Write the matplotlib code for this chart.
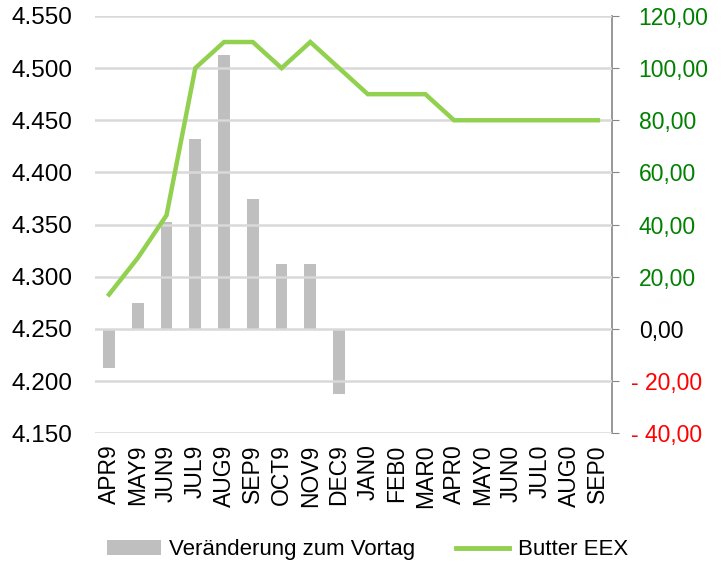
import matplotlib
matplotlib.use("Agg")
import matplotlib.pyplot as plt
from matplotlib.lines import Line2D
from matplotlib.patches import Patch
from matplotlib.ticker import FuncFormatter, FixedLocator
from matplotlib.transforms import ScaledTranslation

plt.rcParams["font.family"] = ["Liberation Sans", "DejaVu Sans"]

months = ["APR9", "MAY9", "JUN9", "JUL9", "AUG9", "SEP9", "OCT9", "NOV9", "DEC9",
          "JAN0", "FEB0", "MAR0", "APR0", "MAY0", "JUN0", "JUL0", "AUG0", "SEP0"]
change = [-15, 10, 41, 73, 105, 50, 25, 25, -25,
          0, 0, 0, 0, 0, 0, 0, 0, 0]
butter = [4283, 4318, 4359, 4500, 4525, 4525, 4500, 4525, 4500,
          4475, 4475, 4475, 4450, 4450, 4450, 4450, 4450, 4450]

left_ticks = [4150, 4200, 4250, 4300, 4350, 4400, 4450, 4500, 4550]
right_ticks = [-40, -20, 0, 20, 40, 60, 80, 100, 120]

GREEN_LINE = "#92D050"
BAR = "#BFBFBF"
GRID = "#D9D9D9"

fig = plt.figure(figsize=(7.28, 5.69), dpi=100)
ax = fig.add_axes([0.130, 0.2385, 0.711, 0.7335])
ax_r = ax.twinx()

x = list(range(len(months)))

# Balken (Veränderung) auf der rechten Achse, hinter der Linie
ax_r.bar(x, change, width=0.41, color=BAR, zorder=2)
ax_r.set_ylim(-40, 120)
ax_r.yaxis.set_major_locator(FixedLocator(right_ticks))


def fmt_right(v, pos):
    if v < 0:
        return f"- {abs(v):.2f}".replace(".", ",")
    return f"{v:.2f}".replace(".", ",")


ax_r.yaxis.set_major_formatter(FuncFormatter(fmt_right))
ax_r.tick_params(axis="y", labelsize=16.5, length=5, color="#868686", pad=14)
for tick, v in zip(ax_r.yaxis.get_major_ticks(), right_ticks):
    lbl = tick.label2
    lbl.set_color("#FF0000" if v < 0 else ("black" if v == 0 else "#008000"))
    if v < 0:
        # Minuszeichen ragt links heraus (Excel-Buchhaltungsformat)
        lbl.set_transform(lbl.get_transform()
                          + ScaledTranslation(-0.08, 0, fig.dpi_scale_trans))

# Butter-Linie auf der linken Achse
ax.set_ylim(4150, 4550)
ax.yaxis.set_major_locator(FixedLocator(left_ticks))
ax.yaxis.set_major_formatter(FuncFormatter(lambda v, p: f"{v / 1000:.3f}"))
ax.tick_params(axis="y", labelsize=17.5, length=0, pad=16)
for t in left_ticks:
    ax.axhline(t, color=GRID, lw=1.8, zorder=0)

ax.set_zorder(ax_r.get_zorder() + 1)
ax.patch.set_visible(False)
ax.plot(x, butter, color=GREEN_LINE, lw=3.2, solid_joinstyle="miter", zorder=5)

ax.set_xlim(-0.5, len(months) - 0.5)
ax.set_xticks(x)
ax.set_xticklabels(months, rotation=90, fontsize=16.5)
ax.tick_params(axis="x", length=0, pad=8)

for a in (ax, ax_r):
    a.spines["top"].set_visible(False)
    a.spines["left"].set_visible(False)
    a.spines["bottom"].set_visible(False)
ax.spines["right"].set_visible(False)
ax_r.spines["right"].set_color("#868686")
ax_r.spines["right"].set_linewidth(1.2)

handles = [Patch(facecolor=BAR, edgecolor="none"),
           Line2D([0], [0], color=GREEN_LINE, lw=3.5)]
fig.legend(handles, ["Veränderung zum Vortag", "Butter EEX"],
           loc="lower center", bbox_to_anchor=(0.505, -0.02), ncol=2, frameon=False,
           fontsize=16, handlelength=2.4, handletextpad=0.4, columnspacing=1.8)

fig.savefig("out.png", dpi=100)
